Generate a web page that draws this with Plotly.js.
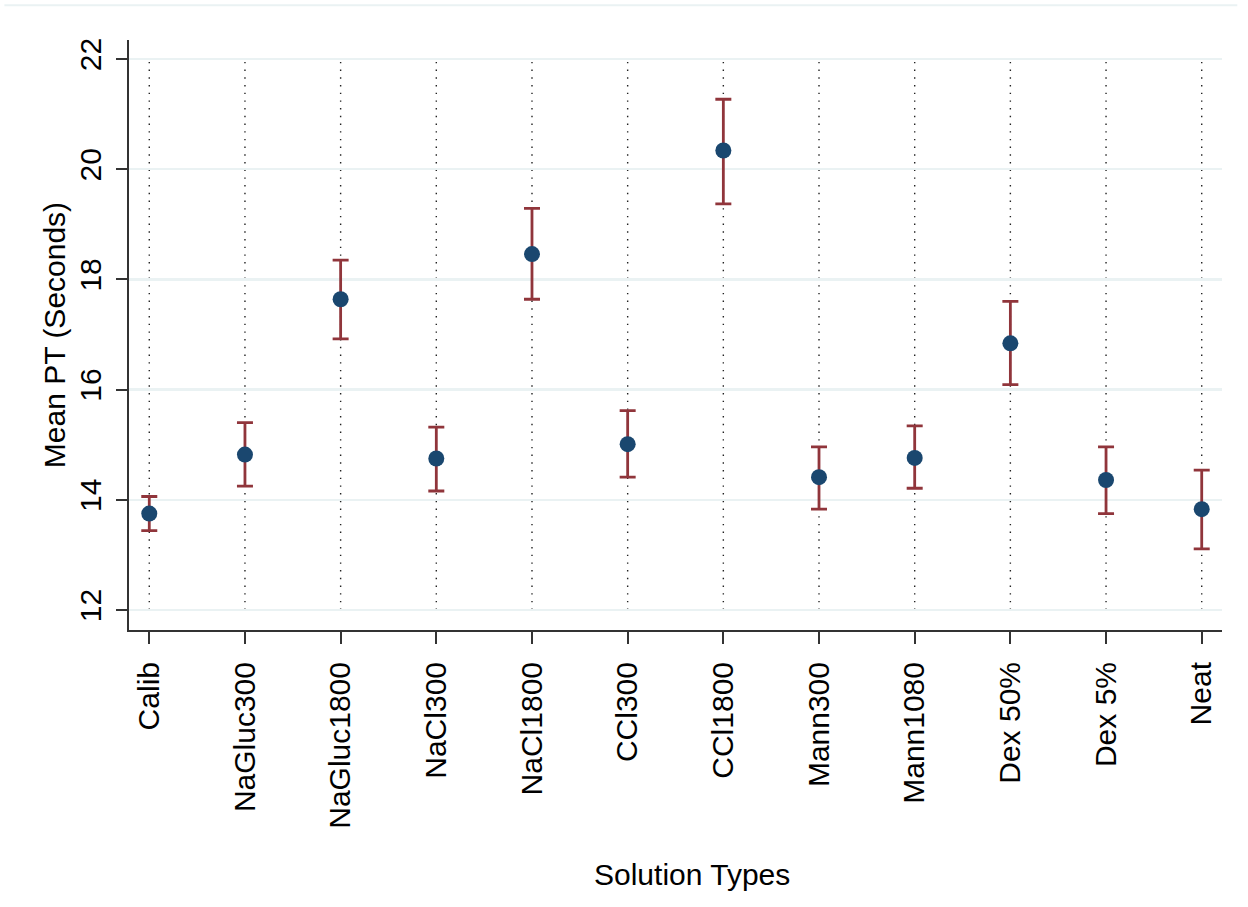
<!DOCTYPE html>
<html>
<head>
<meta charset="utf-8">
<script src="https://cdn.plot.ly/plotly-3.0.1.min.js"></script>
<style>
  html, body { margin: 0; padding: 0; background: #ffffff; }
  #chart { width: 1248px; height: 907px; }
</style>
</head>
<body>
<div id="chart"></div>
<script>
// Solution types on the x axis
const solutions = ["Calib", "NaGluc300", "NaGluc1800", "NaCl300", "NaCl1800", "CCl300",
                   "CCl1800", "Mann300", "Mann1080", "Dex 50%", "Dex 5%", "Neat"];

// Mean prothrombin time (seconds) per solution
const meanPT = [13.75, 14.82, 17.64, 14.75, 18.46, 15.01, 20.34, 14.41, 14.76, 16.84, 14.36, 13.83];

// Upper and lower limits of the interval around each mean
const upperCI = [14.06, 15.40, 18.35, 15.32, 19.29, 15.62, 21.27, 14.96, 15.34, 17.60, 14.96, 14.54];
const lowerCI = [13.44, 14.25, 16.92, 14.16, 17.64, 14.41, 19.37, 13.83, 14.21, 16.09, 13.75, 13.11];

// Y axis ticks
const yTicks = [12, 14, 16, 18, 20, 22];

const idx = solutions.map((_, i) => i);
const errPlus = meanPT.map((m, i) => upperCI[i] - m);
const errMinus = meanPT.map((m, i) => m - lowerCI[i]);

const FONT = "Liberation Sans, Arial, sans-serif";

const trace = {
  type: "scatter",
  mode: "markers",
  x: idx,
  y: meanPT,
  marker: { color: "#1a476f", size: 16, line: { width: 0 } },
  error_y: {
    type: "data",
    symmetric: false,
    array: errPlus,
    arrayminus: errMinus,
    color: "#90353b",
    thickness: 2.8,
    width: 8
  },
  hoverinfo: "x+y",
  showlegend: false,
  cliponaxis: false
};

// dotted vertical guide at each category, spanning the tick range
const yLo = yTicks[0], yHi = yTicks[yTicks.length - 1];
const shapes = idx.map(i => ({
  type: "line", xref: "x", yref: "y", layer: "below",
  x0: i, x1: i, y0: yLo, y1: yHi,
  line: { color: "#222222", width: 1.4, dash: "1.4px,6.3px" }
}));
// light rule across the top of the graph region
shapes.push({
  type: "line", xref: "paper", yref: "paper",
  x0: -0.114, x1: 1.014, y0: 1.059, y1: 1.059,
  line: { color: "#eaf2f3", width: 2 }
});

const layout = {
  width: 1248,
  height: 907,
  paper_bgcolor: "#ffffff",
  plot_bgcolor: "#ffffff",
  margin: { l: 129, r: 26, t: 40, b: 277, pad: 0 },
  font: { family: FONT, color: "#000000", size: 30 },
  xaxis: {
    range: [-0.212, 11.212],
    tickmode: "array",
    tickvals: idx,
    ticktext: solutions,
    tickangle: -90,
    ticks: "outside",
    ticklen: 12,
    tickwidth: 2,
    tickcolor: "#333333",
    tickfont: { family: FONT, size: 30, color: "#000000" },
    ticklabelstandoff: 6,
    showline: true,
    linecolor: "#333333",
    linewidth: 2,
    showgrid: false,
    zeroline: false,
    fixedrange: true
  },
  yaxis: {
    range: [11.637, 22.345],
    tickmode: "array",
    tickvals: yTicks,
    ticktext: yTicks.map(String),
    tickangle: -90,
    ticks: "outside",
    ticklen: 11,
    tickwidth: 2,
    tickcolor: "#333333",
    tickfont: { family: FONT, size: 30, color: "#000000" },
    ticklabelstandoff: 3,
    showline: true,
    linecolor: "#333333",
    linewidth: 2,
    showgrid: true,
    gridcolor: "#eaf2f3",
    gridwidth: 2.5,
    zeroline: false,
    fixedrange: true,
    title: { text: "Mean PT (Seconds)", font: { family: FONT, size: 30, color: "#000000" }, standoff: 0 }
  },
  annotations: [{
    text: "Solution Types",
    xref: "paper", yref: "paper",
    x: 0.515, y: -0.4136,
    xanchor: "center", yanchor: "middle",
    showarrow: false,
    font: { family: FONT, size: 30, color: "#000000" }
  }],
  shapes: shapes
};

Plotly.newPlot("chart", [trace], layout, { displayModeBar: false, staticPlot: true });
</script>
</body>
</html>
